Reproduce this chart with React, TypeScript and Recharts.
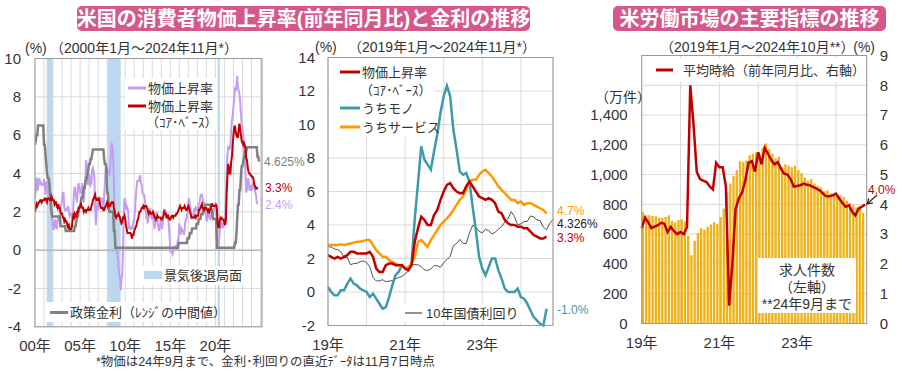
import React from 'react';
import {
  LineChart, ComposedChart, Line, Bar, XAxis, YAxis, CartesianGrid,
  ReferenceArea, ReferenceLine,
} from 'recharts';

// ---------------- Panel 1 data: monthly, Jan 2000 onward (index 0 = 2000-01) ----------------
const cpiAll = [
  2.7, 3.2, 3.8, 3.1, 3.2, 3.7, 3.7, 3.4, 3.5, 3.4, 3.4, 3.4,
  3.7, 3.5, 2.9, 3.3, 3.6, 3.2, 2.7, 2.7, 2.6, 2.1, 1.9, 1.6,
  1.1, 1.1, 1.5, 1.6, 1.2, 1.1, 1.5, 1.8, 1.5, 2.0, 2.2, 2.4,
  2.6, 3.0, 3.0, 2.2, 2.1, 2.1, 2.1, 2.2, 2.3, 2.0, 1.8, 1.9,
  1.9, 1.7, 1.7, 2.3, 3.1, 3.3, 3.0, 2.7, 2.5, 3.2, 3.5, 3.3,
  3.0, 3.0, 3.1, 3.5, 2.8, 2.5, 3.2, 3.6, 4.7, 4.3, 3.5, 3.4,
  4.0, 3.6, 3.4, 3.5, 4.2, 4.3, 4.1, 3.8, 2.1, 1.3, 2.0, 2.5,
  2.1, 2.4, 2.8, 2.6, 2.7, 2.7, 2.4, 2.0, 2.8, 3.5, 4.3, 4.1,
  4.3, 4.0, 4.0, 3.9, 4.2, 5.0, 5.6, 5.4, 4.9, 3.7, 1.1, 0.1,
  0.0, 0.2, -0.4, -0.7, -1.3, -1.4, -2.1, -1.5, -1.3, -0.2, 1.8, 2.7,
  2.6, 2.1, 2.3, 2.2, 2.0, 1.1, 1.2, 1.1, 1.1, 1.2, 1.1, 1.5,
  1.6, 2.1, 2.7, 3.2, 3.6, 3.6, 3.6, 3.8, 3.9, 3.5, 3.4, 3.0,
  2.9, 2.9, 2.7, 2.3, 1.7, 1.7, 1.4, 1.7, 2.0, 2.2, 1.8, 1.7,
  1.6, 2.0, 1.5, 1.1, 1.4, 1.8, 2.0, 1.5, 1.2, 1.0, 1.2, 1.5,
  1.6, 1.1, 1.5, 2.0, 2.1, 2.1, 2.0, 1.7, 1.7, 1.7, 1.3, 0.8,
  -0.1, 0.0, -0.1, -0.2, 0.0, 0.1, 0.2, 0.2, 0.0, 0.2, 0.5, 0.7,
  1.4, 1.0, 0.9, 1.1, 1.0, 1.0, 0.8, 1.1, 1.5, 1.6, 1.7, 2.1,
  2.5, 2.7, 2.4, 2.2, 1.9, 1.6, 1.7, 1.9, 2.2, 2.0, 2.2, 2.1,
  2.1, 2.2, 2.4, 2.5, 2.8, 2.9, 2.9, 2.7, 2.3, 2.5, 2.2, 1.9,
  1.6, 1.5, 1.9, 2.0, 1.8, 1.6, 1.8, 1.7, 1.7, 1.8, 2.1, 2.3,
  2.5, 2.3, 1.5, 0.3, 0.1, 0.6, 1.0, 1.3, 1.4, 1.2, 1.2, 1.4,
  1.4, 1.7, 2.6, 4.2, 5.0, 5.4, 5.4, 5.3, 5.4, 6.2, 6.8, 7.0,
  7.5, 7.9, 8.5, 8.3, 8.6, 9.1, 8.5, 8.3, 8.2, 7.7, 7.1, 6.5,
  6.4, 6.0, 5.0, 4.9, 4.0, 3.0, 3.2, 3.7, 3.7, 3.2, 3.1, 3.4,
  3.1, 3.2, 3.5, 3.4, 3.3, 3.0, 2.9, 2.5, 2.4,
];

const cpiCore = [
  2.0, 2.2, 2.4, 2.3, 2.4, 2.5, 2.5, 2.6, 2.6, 2.5, 2.6, 2.6,
  2.6, 2.7, 2.7, 2.6, 2.5, 2.7, 2.7, 2.7, 2.6, 2.6, 2.8, 2.7,
  2.6, 2.6, 2.4, 2.5, 2.5, 2.3, 2.2, 2.4, 2.2, 2.2, 2.0, 1.9,
  1.9, 1.7, 1.7, 1.5, 1.6, 1.5, 1.5, 1.3, 1.2, 1.3, 1.1, 1.1,
  1.1, 1.2, 1.6, 1.8, 1.7, 1.9, 1.8, 1.7, 2.0, 2.0, 2.2, 2.2,
  2.3, 2.4, 2.3, 2.2, 2.2, 2.0, 2.1, 2.1, 2.0, 2.1, 2.1, 2.2,
  2.1, 2.1, 2.1, 2.3, 2.4, 2.6, 2.7, 2.8, 2.9, 2.7, 2.6, 2.6,
  2.7, 2.7, 2.5, 2.3, 2.2, 2.2, 2.2, 2.1, 2.1, 2.2, 2.3, 2.4,
  2.5, 2.3, 2.4, 2.3, 2.3, 2.4, 2.5, 2.5, 2.5, 2.2, 2.0, 1.8,
  1.7, 1.8, 1.8, 1.9, 1.8, 1.7, 1.5, 1.4, 1.5, 1.7, 1.7, 1.8,
  1.6, 1.3, 1.1, 0.9, 0.9, 0.9, 0.9, 0.9, 0.8, 0.6, 0.8, 0.8,
  1.0, 1.1, 1.2, 1.3, 1.5, 1.6, 1.8, 2.0, 2.0, 2.1, 2.2, 2.2,
  2.3, 2.2, 2.3, 2.3, 2.3, 2.2, 2.1, 1.9, 2.0, 2.0, 1.9, 1.9,
  1.9, 2.0, 1.9, 1.7, 1.7, 1.6, 1.7, 1.8, 1.7, 1.7, 1.7, 1.7,
  1.6, 1.6, 1.7, 1.8, 2.0, 1.9, 1.9, 1.7, 1.7, 1.8, 1.7, 1.6,
  1.6, 1.7, 1.8, 1.8, 1.7, 1.8, 1.8, 1.8, 1.9, 1.9, 2.0, 2.1,
  2.2, 2.3, 2.2, 2.1, 2.2, 2.2, 2.2, 2.3, 2.2, 2.1, 2.1, 2.2,
  2.3, 2.2, 2.0, 1.9, 1.7, 1.7, 1.7, 1.7, 1.7, 1.8, 1.7, 1.8,
  1.8, 1.8, 2.1, 2.1, 2.2, 2.3, 2.4, 2.2, 2.2, 2.1, 2.2, 2.2,
  2.2, 2.1, 2.0, 2.1, 2.0, 2.1, 2.2, 2.4, 2.4, 2.3, 2.3, 2.3,
  2.3, 2.4, 2.1, 1.4, 1.2, 1.2, 1.6, 1.7, 1.7, 1.6, 1.6, 1.6,
  1.4, 1.3, 1.6, 3.0, 3.8, 4.5, 4.3, 4.0, 4.0, 4.6, 4.9, 5.5,
  6.0, 6.4, 6.5, 6.2, 6.0, 5.9, 5.9, 6.3, 6.6, 6.3, 6.0, 5.7,
  5.6, 5.5, 5.6, 5.5, 5.3, 4.8, 4.7, 4.3, 4.1, 4.0, 4.0, 3.9,
  3.9, 3.8, 3.8, 3.6, 3.4, 3.3, 3.2, 3.2, 3.3,
];

const policyRate = [
  5.5, 5.75, 6, 6, 6.5, 6.5, 6.5, 6.5, 6.5, 6.5, 6.5, 6.5,
  5.5, 5.5, 5, 4.5, 4, 3.75, 3.75, 3.5, 3, 2.5, 2, 1.75,
  1.75, 1.75, 1.75, 1.75, 1.75, 1.75, 1.75, 1.75, 1.75, 1.75, 1.25, 1.25,
  1.25, 1.25, 1.25, 1.25, 1.25, 1, 1, 1, 1, 1, 1, 1,
  1, 1, 1, 1, 1, 1.25, 1.25, 1.5, 1.75, 1.75, 2, 2.25,
  2.25, 2.5, 2.75, 2.75, 3, 3.25, 3.25, 3.5, 3.75, 3.75, 4, 4.25,
  4.5, 4.5, 4.75, 4.75, 5, 5.25, 5.25, 5.25, 5.25, 5.25, 5.25, 5.25,
  5.25, 5.25, 5.25, 5.25, 5.25, 5.25, 5.25, 5.25, 4.75, 4.5, 4.5, 4.25,
  3, 3, 2.25, 2, 2, 2, 2, 2, 2, 1, 1, 0.125,
  0.125, 0.125, 0.125, 0.125, 0.125, 0.125, 0.125, 0.125, 0.125, 0.125, 0.125, 0.125,
  0.125, 0.125, 0.125, 0.125, 0.125, 0.125, 0.125, 0.125, 0.125, 0.125, 0.125, 0.125,
  0.125, 0.125, 0.125, 0.125, 0.125, 0.125, 0.125, 0.125, 0.125, 0.125, 0.125, 0.125,
  0.125, 0.125, 0.125, 0.125, 0.125, 0.125, 0.125, 0.125, 0.125, 0.125, 0.125, 0.125,
  0.125, 0.125, 0.125, 0.125, 0.125, 0.125, 0.125, 0.125, 0.125, 0.125, 0.125, 0.125,
  0.125, 0.125, 0.125, 0.125, 0.125, 0.125, 0.125, 0.125, 0.125, 0.125, 0.125, 0.125,
  0.125, 0.125, 0.125, 0.125, 0.125, 0.125, 0.125, 0.125, 0.125, 0.125, 0.125, 0.375,
  0.375, 0.375, 0.375, 0.375, 0.375, 0.375, 0.375, 0.375, 0.375, 0.375, 0.375, 0.625,
  0.625, 0.625, 0.875, 0.875, 0.875, 1.125, 1.125, 1.125, 1.125, 1.125, 1.125, 1.375,
  1.375, 1.375, 1.625, 1.625, 1.625, 1.875, 1.875, 1.875, 2.125, 2.125, 2.125, 2.375,
  2.375, 2.375, 2.375, 2.375, 2.375, 2.375, 2.125, 2.125, 1.875, 1.625, 1.625, 1.625,
  1.625, 1.625, 0.125, 0.125, 0.125, 0.125, 0.125, 0.125, 0.125, 0.125, 0.125, 0.125,
  0.125, 0.125, 0.125, 0.125, 0.125, 0.125, 0.125, 0.125, 0.125, 0.125, 0.125, 0.125,
  0.125, 0.125, 0.375, 0.375, 0.875, 1.625, 2.375, 2.375, 3.125, 3.125, 3.875, 4.375,
  4.375, 4.625, 4.875, 4.875, 5.125, 5.125, 5.375, 5.375, 5.375, 5.375, 5.375, 5.375,
  5.375, 5.375, 5.375, 5.375, 5.375, 5.375, 5.375, 5.375, 4.875, 4.875, 4.625,
];

// recession periods (month index from 2000-01)
const recessions = [
  [15.5, 23.5],
  [96.5, 114],
  [243, 246],
];

const p1YearTicks = [0, 12, 24, 36, 48, 60, 72, 84, 96, 108, 120, 132, 144, 156, 168, 180, 192, 204, 216, 228, 240, 252, 264, 276, 288, 300];
const p1YearLabels = ['00年', '05年', '10年', '15年', '20年'];
const p1YTicks = [-4, -2, 0, 2, 4, 6, 8, 10];

// ---------------- Panel 2 data: monthly, Jan 2019 onward ----------------
const P2_START = 228; // 2019-01 in panel-1 index
const coreGoods = [
  0.3, 0.0, -0.2, -0.2, 0.1, 0.1, 0.5, 0.8, 0.5, 0.4, 0.2, 0.1,
  0.0, -0.3, -0.1, -0.4, -0.7, -1.0, -0.9, -0.3, 0.4, 1.0, 1.2, 1.6,
  1.4, 1.3, 1.7, 4.4, 6.5, 8.7, 7.9, 7.6, 7.3, 8.4, 9.4, 10.7,
  11.7, 12.3, 11.7, 9.7, 8.5, 7.2, 7.0, 7.1, 6.6, 5.1, 3.7, 2.1,
  1.4, 1.0, 1.5, 2.0, 2.0, 1.3, 0.8, 0.2, 0.0, 0.0, 0.0, 0.2,
  -0.3, -0.4, -0.7, -1.1, -1.5, -1.7, -1.9, -2.0, -1.0,
];
const coreServices = [
  2.8, 2.8, 2.8, 2.8, 2.85, 2.8, 2.85, 2.9, 2.95, 3.0, 3.0, 3.05,
  3.1, 3.1, 2.8, 2.5, 2.3, 2.1, 2.1, 1.9, 1.8, 1.7, 1.6, 1.55,
  1.4, 1.5, 1.7, 2.1, 3.0, 3.1, 2.9, 2.7, 3.1, 3.4, 3.7, 4.0,
  4.2, 4.4, 4.6, 4.9, 5.2, 5.5, 5.7, 6.1, 6.6, 6.7, 6.7, 7.0,
  7.2, 7.3, 7.1, 6.9, 6.6, 6.3, 6.1, 5.9, 5.7, 5.5, 5.5, 5.3,
  5.4, 5.2, 5.3, 5.3, 5.2, 5.1, 5.0, 4.9, 4.7,
];
const tsy10y = [
  2.71, 2.68, 2.57, 2.53, 2.40, 2.07, 2.06, 1.63, 1.70, 1.71, 1.81, 1.86,
  1.76, 1.50, 0.87, 0.66, 0.67, 0.73, 0.62, 0.65, 0.68, 0.79, 0.87, 0.93,
  1.08, 1.26, 1.61, 1.64, 1.62, 1.52, 1.32, 1.28, 1.37, 1.58, 1.56, 1.47,
  1.76, 1.93, 2.13, 2.75, 2.90, 3.14, 2.90, 2.90, 3.52, 3.98, 3.89, 3.62,
  3.53, 3.75, 3.66, 3.46, 3.57, 3.75, 3.90, 4.17, 4.38, 4.80, 4.50, 4.02,
  4.06, 4.21, 4.21, 4.54, 4.48, 4.31, 4.25, 3.87, 3.72, 4.10, 4.326,
];
const p2XTicks = [0, 12, 24, 36, 48, 60];
const p2XLabels = ['19年', '21年', '23年'];
const p2YTicks = [-2, 0, 2, 4, 6, 8, 10, 12, 14];

// ---------------- Panel 3 data: monthly, Jan 2019 onward ----------------
const jobOpenings = [
  749, 727, 727, 722, 720, 712, 711, 716, 727, 690, 680, 695,
  700, 685, 590, 459, 555, 608, 640, 630, 650, 665, 680, 670,
  716, 772, 880, 940, 990, 1030, 1090, 1085, 1095, 1130, 1140, 1150,
  1140, 1180, 1210, 1170, 1140, 1110, 1120, 1050, 1070, 1060, 1050, 1060,
  1030, 1010, 980, 960, 970, 940, 925, 915, 890, 895, 875, 870,
  860, 862, 850, 825, 810, 795, 780, 790, 745,
];
const wageGrowth = [
  3.2, 3.55, 3.4, 3.2, 3.25, 3.3, 3.38, 3.35, 3.07, 3.24, 3.1, 3.0,
  3.07, 3.0, 3.24, 8.0, 6.7, 5.1, 4.85, 4.8, 4.75, 4.6, 4.5, 5.4,
  5.25, 5.25, 4.6, 0.6, 2.0, 3.85, 4.2, 4.4, 4.8, 5.4, 5.45, 5.1,
  5.75, 5.35, 5.9, 5.7, 5.5, 5.35, 5.42, 5.2, 5.03, 5.0, 4.85, 4.6,
  4.62, 4.64, 4.7, 4.66, 4.64, 4.58, 4.53, 4.47, 4.36, 4.27, 4.27, 4.3,
  4.36, 4.2, 4.05, 3.92, 3.97, 3.75, 3.63, 3.86, 3.92, 4.0,
];
const p3XTicks = [0, 12, 24, 36, 48, 60];
const p3XLabels = ['19年', '21年', '23年'];
const p3LeftTicks = [0, 200, 400, 600, 800, 1000, 1200, 1400];
const p3RightTicks = [0, 1, 2, 3, 4, 5, 6, 7, 8, 9];

// ---------------- rows ----------------
const p1Rows = policyRate.map((r, i) => ({
  i,
  rate: r,
  cpi: cpiAll[i] ?? null,
  core: cpiCore[i] ?? null,
}));
const p2Rows = tsy10y.map((y, i) => ({
  i,
  yld: y,
  core: cpiCore[P2_START + i] ?? null,
  goods: coreGoods[i] ?? null,
  serv: coreServices[i] ?? null,
}));
const p3Rows = wageGrowth.map((w, i) => ({
  i,
  bx: i + 0.5,
  wage: w,
  jobs: jobOpenings[i] ?? null,
}));

// ---------------- styles ----------------
const FONT = '"Liberation Sans", Arial, "Noto Sans CJK JP", sans-serif';
const TXT = '#333333';
const GRID = '#d9d9d9';
const FRAME = '#9a9a9a';
const C_CPI = '#c59ef2';
const C_CORE = '#c00000';
const C_RATE = '#808080';
const C_GOODS = '#3d9aa8';
const C_SERV = '#ff9900';
const C_YLD = '#262626';
const C_BAR = '#efb31a';
const C_REC = '#bdd7ee';
const PINK = '#d5588b';

const tickStyle = { fontFamily: FONT, fontSize: 15, fill: TXT };

export default function App() {
  return (
    <div style={{ position: 'absolute', left: 0, top: 0, width: 900, height: 380, background: '#fff', fontFamily: FONT }}>
      {/* Panel 1 */}
      <div style={{ position: 'absolute', left: 0, top: 0 }}>
        <LineChart width={300} height={380} data={p1Rows} margin={{ top: 58.5, right: 38, bottom: 23.2, left: 5 }}>
          <CartesianGrid stroke={GRID} strokeWidth={1} />
          {recessions.map(([a, b], k) => (
            <ReferenceArea key={k} x1={a} x2={b} fill={C_REC} fillOpacity={1} stroke="none" ifOverflow="hidden" />
          ))}
          <ReferenceLine y={0} stroke="#a6a6a6" strokeWidth={1} />
          <XAxis type="number" dataKey="i" domain={[0, 302]} ticks={p1YearTicks} interval={0}
            tickFormatter={(v: number) => (v % 60 === 0 && v < 300 ? p1YearLabels[v / 60] : '')}
            tick={tickStyle} tickLine={false} axisLine={false} tickSize={0} tickMargin={14} allowDataOverflow />
          <YAxis type="number" domain={[-4, 10]} ticks={p1YTicks} interval={0} width={30}
            tick={tickStyle} tickLine={false} axisLine={false} tickSize={0} tickMargin={14} />
          <Line dataKey="cpi" stroke={C_CPI} strokeWidth={2} dot={false} isAnimationActive={false} />
          <Line dataKey="rate" stroke={C_RATE} strokeWidth={2.5} dot={false} isAnimationActive={false} />
          <Line dataKey="core" stroke={C_CORE} strokeWidth={2} dot={false} isAnimationActive={false} />
        </LineChart>
      </div>

      {/* Panel 2 */}
      <div style={{ position: 'absolute', left: 290, top: 0 }}>
        <LineChart width={300} height={380} data={p2Rows} margin={{ top: 57.5, right: 37, bottom: 24.5, left: 13 }}>
          <CartesianGrid stroke={GRID} strokeWidth={1} />
          <XAxis type="number" dataKey="i" domain={[0, 70]} ticks={p2XTicks} interval={0}
            tickFormatter={(v: number) => (v % 24 === 0 ? p2XLabels[v / 24] : '')}
            tick={tickStyle} tickLine={false} axisLine={false} tickSize={0} tickMargin={14} />
          <YAxis type="number" domain={[-2, 14]} ticks={p2YTicks} interval={0} width={25}
            tick={tickStyle} tickLine={false} axisLine={false} tickSize={0} tickMargin={13} />
          <Line dataKey="yld" stroke={C_YLD} strokeWidth={0.8} dot={false} isAnimationActive={false} />
          <Line dataKey="goods" stroke={C_GOODS} strokeWidth={2.5} dot={false} isAnimationActive={false} />
          <Line dataKey="serv" stroke={C_SERV} strokeWidth={2.5} dot={false} isAnimationActive={false} />
          <Line dataKey="core" stroke={C_CORE} strokeWidth={2.5} dot={false} isAnimationActive={false} />
        </LineChart>
      </div>

      {/* Panel 3 */}
      <div style={{ position: 'absolute', left: 590, top: 0 }}>
        <ComposedChart width={310} height={380} data={p3Rows} margin={{ top: 55.5, right: 3.3, bottom: 26.5, left: 11.7 }}>
          <CartesianGrid stroke={GRID} strokeWidth={1} xAxisId="line" yAxisId="right" />
          <XAxis xAxisId="bar" type="number" dataKey="bx" domain={[0, 69.5]} hide height={0} orientation="top" />
          <XAxis xAxisId="line" type="number" dataKey="i" domain={[0, 69.5]} ticks={p3XTicks} interval={0}
            tickFormatter={(v: number) => (v % 24 === 0 ? p3XLabels[v / 24] : '')}
            tick={tickStyle} tickLine={false} axisLine={false} tickSize={0} tickMargin={14} />
          <YAxis yAxisId="left" orientation="left" type="number" domain={[0, 1800]} ticks={p3LeftTicks} interval={0} width={40}
            tickFormatter={(v: number) => v.toLocaleString('en-US')}
            tick={tickStyle} tickLine={false} axisLine={false} tickSize={0} tickMargin={14} />
          <YAxis yAxisId="right" orientation="right" type="number" domain={[0, 9]} ticks={p3RightTicks} interval={0} width={30}
            tick={tickStyle} tickLine={false} axisLine={false} tickSize={0} tickMargin={13} />
          <Bar xAxisId="bar" yAxisId="left" dataKey="jobs" fill={C_BAR} barSize={2.4} isAnimationActive={false} />
          <Line xAxisId="line" yAxisId="right" dataKey="wage" stroke={C_CORE} strokeWidth={2.5} dot={false} isAnimationActive={false} />
        </ComposedChart>
      </div>

      {/* Overlay: titles, legends, labels, frames */}
      <svg width={900} height={380} style={{ position: 'absolute', left: 0, top: 0, pointerEvents: 'none' }}
        fontFamily={FONT}>
        {/* plot frames */}
        <rect x={35} y={58.5} width={227} height={268.3} fill="none" stroke={FRAME} strokeWidth={1} />
        <rect x={328} y={57.5} width={225} height={268} fill="none" stroke={FRAME} strokeWidth={1} />
        <rect x={641.7} y={55.5} width={225} height={268} fill="none" stroke={FRAME} strokeWidth={1} />

        {/* titles */}
        <rect x={77} y={6} width={453} height={25} rx={5} fill={PINK} />
        <text x={303.5} y={19} textAnchor="middle" dominantBaseline="central" fill="#fff" fontSize={20} fontWeight="bold">
          米国の消費者物価上昇率(前年同月比)と金利の推移
        </text>
        <rect x={613} y={6} width={273} height={25} rx={5} fill={PINK} />
        <text x={749.5} y={19} textAnchor="middle" dominantBaseline="central" fill="#fff" fontSize={20} fontWeight="bold">
          米労働市場の主要指標の推移
        </text>

        {/* subtitles */}
        <g fill={TXT} fontSize={14} dominantBaseline="central">
          <text x={25} y={48}>(%)</text>
          <text x={50} y={48}>（2000年1月～2024年11月*）</text>
          <text x={315} y={47}>(%)</text>
          <text x={348} y={47}>（2019年1月～2024年11月*）</text>
          <text x={660} y={47}>（2019年1月～2024年10月**）</text>
          <text x={875} y={47} textAnchor="end">(%)</text>
          <text x={595} y={97}>（万件）</text>
        </g>

        {/* Panel 1 legends */}
        <rect x={125} y={78} width={92} height={52} fill="#fff" />
        <line x1={128} x2={146} y1={88} y2={88} stroke={C_CPI} strokeWidth={3} />
        <line x1={128} x2={146} y1={106} y2={106} stroke={C_CORE} strokeWidth={3} />
        <g fill={TXT} fontSize={13} dominantBaseline="central">
          <text x={148} y={88}>物価上昇率</text>
          <text x={148} y={106}>物価上昇率</text>
          <text x={146} y={122}>（ｺｱ･ﾍﾞｰｽ）</text>
        </g>
        <rect x={141} y={266} width={103} height={19} fill="#fff" />
        <rect x={144} y={271} width={18} height={8} fill={C_REC} />
        <text x={164} y={275} fill={TXT} fontSize={13} dominantBaseline="central">景気後退局面</text>
        <rect x={46} y={302} width={166} height={20} fill="#fff" />
        <line x1={50} x2={68} y1={312.5} y2={312.5} stroke={C_RATE} strokeWidth={3} />
        <text x={70} y={312} fill={TXT} fontSize={13} dominantBaseline="central">政策金利（ﾚﾝｼﾞの中間値）</text>

        {/* Panel 1 end labels */}
        <g fontSize={12} dominantBaseline="central">
          <text x={264} y={162} fill="#7f7f7f">4.625%</text>
          <text x={265} y={188} fill={C_CORE}>3.3%</text>
          <text x={265} y={205} fill={C_CPI}>2.4%</text>
        </g>

        {/* Panel 2 legends */}
        <rect x={329} y={59} width={106} height={78} fill="#fff" />
        <line x1={340} x2={360} y1={72} y2={72} stroke={C_CORE} strokeWidth={3} />
        <line x1={340} x2={360} y1={108} y2={108} stroke={C_GOODS} strokeWidth={3} />
        <line x1={340} x2={360} y1={127} y2={127} stroke={C_SERV} strokeWidth={3} />
        <g fill={TXT} fontSize={13} dominantBaseline="central">
          <text x={362} y={72}>物価上昇率</text>
          <text x={360} y={90}>（ｺｱ･ﾍﾞｰｽ）</text>
          <text x={362} y={108}>うちモノ</text>
          <text x={362} y={127}>うちサービス</text>
        </g>
        <rect x={402} y={304} width={120} height={18} fill="#fff" />
        <line x1={405} x2={422} y1={313} y2={313} stroke={C_YLD} strokeWidth={1} />
        <text x={426} y={313} fill={TXT} fontSize={13} dominantBaseline="central">10年国債利回り</text>

        {/* Panel 2 end labels */}
        <g fontSize={12} dominantBaseline="central">
          <text x={557} y={210.5} fill={C_SERV}>4.7%</text>
          <text x={557} y={223.5} fill="#222">4.326%</text>
          <text x={557} y={237.5} fill={C_CORE}>3.3%</text>
          <text x={557} y={310} fill={C_GOODS}>-1.0%</text>
        </g>

        {/* Panel 3 legends */}
        <rect x={648} y={58} width={215} height={24} fill="#fff" />
        <line x1={656} x2={673} y1={70} y2={70} stroke={C_CORE} strokeWidth={3} />
        <text x={683} y={70} fill={TXT} fontSize={13} dominantBaseline="central">平均時給（前年同月比、右軸）</text>
        <rect x={758} y={258} width={98} height={55} fill="#fff" />
        <g fill={TXT} fontSize={14} textAnchor="middle" dominantBaseline="central">
          <text x={807} y={270}>求人件数</text>
          <text x={807} y={287}>（左軸）</text>
          <text x={807} y={304}>**24年9月まで</text>
        </g>
        <text x={868} y={190} fill={C_CORE} fontSize={12} dominantBaseline="central">4.0%</text>
        <line x1={877} y1={195} x2={867} y2={204} stroke="#222" strokeWidth={1.2} />
        <polyline points="872.9,202.8 867,204 868.9,198.3" fill="none" stroke="#222" strokeWidth={1.2} />

        {/* footnote */}
        <text x={96} y={362} fill={TXT} fontSize={12.5} dominantBaseline="central">
          *物価は24年9月まで、金利･利回りの直近ﾃﾞｰﾀは11月7日時点
        </text>
      </svg>
    </div>
  );
}
